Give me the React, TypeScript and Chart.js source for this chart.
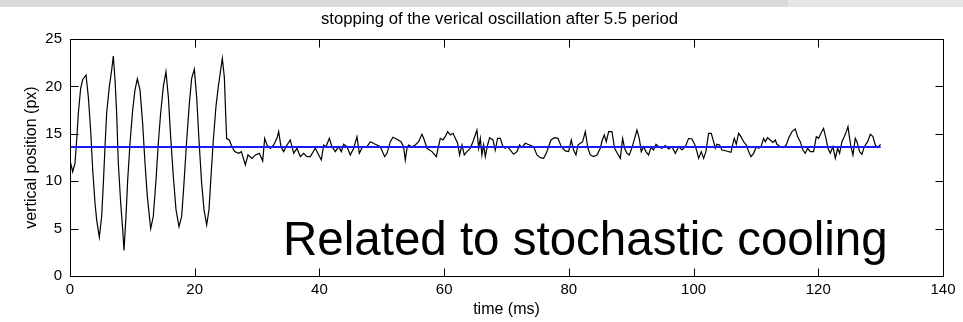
import React, { useEffect, useRef } from "react";
import { Chart, registerables } from "chart.js";

Chart.register(...registerables);

// Driven oscillation phase: time (ms) and vertical position (px)
const swingTimes = [
  0, 0.43, 0.8, 1.07, 1.34, 1.71, 2.03, 2.57, 2.94, 3.31, 3.64, 4.01, 4.28, 4.7,
  5.08, 5.35, 5.61, 5.88, 6.31, 6.68, 6.95, 7.22, 7.48, 7.75, 8.13, 8.45, 8.66,
  8.98, 9.25, 9.62, 10.05, 10.42, 10.8, 11.23, 11.65, 12.03, 12.4, 12.94, 13.36,
  13.79, 14.16, 14.54, 14.97, 15.39, 15.77, 16.14, 16.57, 17.0, 17.48, 17.91,
  18.28, 18.71, 19.14, 19.51, 19.94, 20.31, 20.69, 21.11, 21.49, 21.92, 22.29,
  22.61, 22.98, 23.41, 23.79, 24.43, 24.75, 24.96, 25.12,
];
const swingValues = [
  12.2, 11.0, 11.9, 14.3, 17.2, 19.8, 20.7, 21.2, 18.9, 15.4, 11.2, 7.7, 5.9, 4.1,
  6.3, 9.8, 13.6, 17.2, 20.0, 21.7, 23.2, 20.7, 17.2, 11.9, 7.7, 4.9, 2.7,
  6.3, 10.1, 14.0, 17.5, 19.6, 20.8, 19.6, 16.1, 11.9, 8.4, 5.0, 6.3,
  10.1, 14.0, 17.2, 20.0, 21.55, 18.9, 14.7, 10.5, 7.0, 5.2, 6.3,
  9.8, 14.3, 18.2, 20.85, 21.8, 18.9, 14.3, 9.8, 7.0, 5.4, 7.0,
  10.5, 14.3, 17.9, 20.0, 22.95, 21.0, 17.2, 14.5,
];

// Settled phase after the oscillation is stopped
const settleTimes = [
  25.55, 25.98, 26.41, 27.05, 27.48, 28.12, 28.54, 29.19, 29.72, 30.36, 30.9,
  31.22, 31.59, 32.13, 32.66, 33.19, 33.46, 33.84, 34.26, 34.8, 35.33, 35.87,
  36.4, 36.94, 37.47, 38.0, 38.54, 39.34, 39.88, 40.3, 40.68, 41.05, 41.59,
  42.01, 42.55, 43.08, 43.51, 43.88, 44.42, 44.95, 45.49, 46.02, 46.4, 46.93,
  47.63, 48.16, 48.96, 49.76, 50.46, 50.83, 51.37, 51.79, 52.43, 53.08, 53.5,
  53.77, 54.04, 54.3, 54.84, 55.37, 55.91, 56.44, 56.82, 57.24, 58.05, 58.74,
  59.38, 59.81, 60.18, 60.56, 60.99, 61.41, 61.79, 62.16, 62.48, 62.86, 63.23,
  63.66, 64.19, 64.62, 64.99, 65.26, 65.53, 65.8, 66.06, 66.33, 66.6, 66.97,
  67.29, 67.83, 68.2, 68.57, 69.0, 69.43, 69.8, 70.18, 70.61, 71.14, 71.68,
  72.1, 72.48, 73.01, 73.71, 74.35, 74.88, 75.42, 75.95, 76.38, 76.75, 77.13,
  77.72, 78.25, 78.79, 79.43, 79.96, 80.39, 80.76, 81.14, 81.46, 81.83, 82.21,
  82.64, 83.06, 83.44, 83.97, 84.51, 85.04, 85.31, 85.68, 86.0, 86.38, 86.91,
  87.34, 87.77, 88.25, 88.62, 88.94, 89.32, 89.69, 90.12, 90.55, 90.92, 91.29,
  91.61, 91.99, 92.36, 92.79, 93.16, 93.59, 93.97, 94.39, 94.93, 95.46, 96.0,
  96.53, 97.07, 97.6, 98.14, 98.67, 99.21, 99.74, 100.17, 100.54, 100.81,
  101.24, 101.61, 101.98, 102.41, 102.84, 103.21, 103.48, 103.75, 104.18,
  104.55, 105.25, 106.0, 106.32, 106.53, 106.85, 107.22, 107.6, 108.03, 108.45,
  108.83, 109.2, 109.63, 110.06, 110.43, 110.81, 111.23, 111.5, 111.87, 112.3,
  112.73, 113.1, 113.37, 113.91, 114.44, 114.87, 115.24, 115.78, 116.31,
  116.68, 117.11, 117.54, 117.91, 118.29, 118.72, 119.25, 119.68, 120.05,
  120.43, 120.85, 121.23, 121.55, 121.92, 122.35, 122.73, 123.1, 123.42,
  123.79, 124.17, 124.49, 124.76, 125.02, 125.24, 125.56, 125.93, 126.2,
  126.63, 127.0, 127.38, 127.91, 128.34, 128.77, 129.14, 129.51, 130.0,
];
const settleValues = [
  14.35, 13.64, 13.12, 12.94, 13.12, 11.71, 12.77, 12.41, 12.77, 12.94, 12.13,
  14.52, 13.82, 13.47, 13.82, 14.52, 15.23, 13.64, 13.12, 13.82, 14.35, 12.94,
  13.47, 12.59, 12.94, 12.59, 12.59, 13.47, 12.77, 12.24, 13.82, 13.64, 14.52,
  13.64, 13.12, 13.64, 13.12, 13.89, 13.64, 12.77, 13.47, 14.7, 12.94, 13.64,
  13.64, 14.17, 13.89, 13.64, 12.59, 12.94, 14.17, 14.63, 14.42, 14.17, 13.64,
  12.24, 13.47, 13.82, 13.64, 13.82, 14.17, 14.95, 14.35, 13.47, 13.12, 12.59,
  14.52, 14.35, 14.7, 15.23, 14.88, 15.05, 14.52, 14.0, 12.77, 13.82, 12.77,
  13.12, 13.47, 14.17, 14.88, 15.4, 13.47, 14.52, 12.77, 13.82, 12.59, 13.82,
  14.59, 14.35, 13.29, 14.52, 14.52, 13.64, 13.47, 13.64, 13.29, 12.84, 13.12,
  13.82, 13.54, 14.0, 13.82, 13.64, 12.77, 12.48, 12.41, 12.94, 13.64, 14.35,
  14.59, 14.52, 13.64, 13.19, 13.12, 14.35, 13.29, 12.77, 13.82, 14.0, 14.17,
  15.23, 13.47, 12.77, 12.59, 12.77, 13.47, 14.24, 14.88, 14.17, 15.23, 15.23,
  13.47, 12.94, 12.41, 14.52, 13.47, 12.94, 12.77, 13.54, 14.52, 15.4, 14.52,
  13.12, 13.64, 13.12, 12.77, 13.54, 13.29, 13.89, 13.64, 13.47, 13.75, 13.4,
  13.64, 12.94, 13.64, 13.29, 13.64, 14.52, 14.45, 13.89, 13.12, 12.41,
  13.12, 12.41, 13.12, 15.05, 15.05, 14.17, 13.47, 13.89, 13.82,
  13.29, 13.19, 13.05, 14.0, 14.52, 13.89, 15.05, 14.7, 14.17, 13.82,
  13.12, 12.59, 12.94, 13.64, 13.47, 13.64, 14.52, 14.17, 14.59, 14.35,
  14.1, 14.35, 13.89, 13.64, 13.54, 13.82, 14.52, 15.23, 15.51,
  14.7, 14.17, 13.29, 12.94, 13.47, 13.12, 13.12, 14.7, 14.52,
  15.05, 15.57, 14.52, 13.47, 12.94, 13.64, 12.41, 13.47, 12.94,
  14.17, 14.7, 15.23, 15.75, 14.52, 13.64, 12.77, 14.52, 14.17,
  13.12, 12.84, 13.64, 14.17, 14.95, 14.7, 13.82, 13.54, 13.89,
];

// Mean resting position
const restLevel = 13.6;
const restSpan = [0, 130];

const xTickValues = [0, 20, 40, 60, 80, 100, 120, 140];
const yTickValues = [0, 5, 10, 15, 20, 25];

const titleText = "stopping of the verical oscillation after 5.5 period";
const xAxisLabel = "time (ms)";
const yAxisLabel = "vertical position (px)";
const noteText = "Related to stochastic cooling";

const FONT = "'Liberation Sans', Arial, Helvetica, sans-serif";

// Box around the plot, inward ticks on all four sides, title and note
const framePlugin = {
  id: "frame",
  afterDraw(chart: any) {
    const { ctx, chartArea: a, scales } = chart;
    ctx.save();
    ctx.strokeStyle = "#000";
    ctx.lineWidth = 1;
    const l = Math.round(a.left) + 0.5;
    const r = Math.round(a.right) + 0.5;
    const t = Math.round(a.top) + 0.5;
    const b = Math.round(a.bottom) + 0.5;
    ctx.strokeRect(l, t, r - l, b - t);
    const len = 8;
    ctx.beginPath();
    for (const v of xTickValues) {
      const px = Math.round(scales.x.getPixelForValue(v)) + 0.5;
      ctx.moveTo(px, b);
      ctx.lineTo(px, b - len);
      ctx.moveTo(px, t);
      ctx.lineTo(px, t + len);
    }
    for (const v of yTickValues) {
      const py = Math.round(scales.y.getPixelForValue(v)) + 0.5;
      ctx.moveTo(l, py);
      ctx.lineTo(l + len, py);
      ctx.moveTo(r, py);
      ctx.lineTo(r - len, py);
    }
    ctx.stroke();

    ctx.fillStyle = "#000";
    ctx.font = `16.7px ${FONT}`;
    ctx.textAlign = "center";
    ctx.textBaseline = "middle";
    ctx.fillText(titleText, (a.left + a.right) / 2 - 7, 19);

    ctx.font = `47.5px ${FONT}`;
    ctx.textAlign = "left";
    ctx.textBaseline = "alphabetic";
    ctx.fillText(noteText, a.left + 213, a.bottom - 21);
    ctx.restore();
  },
};

export default function App() {
  const canvasRef = useRef<HTMLCanvasElement | null>(null);

  useEffect(() => {
    document.body.style.margin = "0";
    const canvas = canvasRef.current;
    if (!canvas) return;

    const trace = [
      ...swingTimes.map((x, i) => ({ x, y: swingValues[i] })),
      ...settleTimes.map((x, i) => ({ x, y: settleValues[i] })),
    ];
    const rest = restSpan.map((x) => ({ x, y: restLevel }));

    const chart = new Chart(canvas, {
      type: "line",
      data: {
        datasets: [
          {
            label: "mean",
            data: rest,
            borderColor: "#1a1aff",
            borderWidth: 2,
            pointRadius: 0,
          },
          {
            label: "position",
            data: trace,
            borderColor: "#000000",
            borderWidth: 1.2,
            pointRadius: 0,
            tension: 0,
          },
        ],
      },
      plugins: [framePlugin],
      options: {
        animation: false,
        responsive: false,
        devicePixelRatio: 1,
        layout: { padding: { top: 39, right: 20, left: 0, bottom: 0 } },
        plugins: {
          legend: { display: false },
          tooltip: { enabled: false },
          title: { display: false },
        },
        scales: {
          x: {
            type: "linear",
            min: 0,
            max: 140,
            afterFit: (s: any) => {
              s.height = 46;
            },
            afterBuildTicks: (s: any) => {
              s.ticks = xTickValues.map((value) => ({ value }));
            },
            grid: { display: false, drawTicks: false },
            border: { display: false },
            ticks: {
              color: "#000",
              padding: 5,
              maxRotation: 0,
              autoSkip: false,
              font: { family: FONT, size: 15 },
            },
            title: {
              display: true,
              text: xAxisLabel,
              color: "#000",
              padding: { top: 0, bottom: 3 },
              font: { family: FONT, size: 16 },
            },
          },
          y: {
            type: "linear",
            min: 0,
            max: 25,
            afterFit: (s: any) => {
              s.width = 70;
            },
            afterBuildTicks: (s: any) => {
              s.ticks = yTickValues.map((value) => ({ value }));
            },
            grid: { display: false, drawTicks: false },
            border: { display: false },
            ticks: {
              color: "#000",
              padding: 8,
              autoSkip: false,
              font: { family: FONT, size: 15 },
            },
            title: {
              display: true,
              text: yAxisLabel,
              color: "#000",
              padding: { top: 22, bottom: 0 },
              font: { family: FONT, size: 16 },
            },
          },
        },
      },
    });

    return () => chart.destroy();
  }, []);

  return (
    <div style={{ position: "relative", width: 963, height: 322, background: "#fff" }}>
      <canvas ref={canvasRef} width={963} height={322} style={{ display: "block" }} />
      <div style={{ position: "absolute", left: 0, top: 0, width: 788, height: 7, background: "#dadada" }} />
      <div style={{ position: "absolute", left: 788, top: 0, width: 175, height: 7, background: "#e6e6e6" }} />
    </div>
  );
}
